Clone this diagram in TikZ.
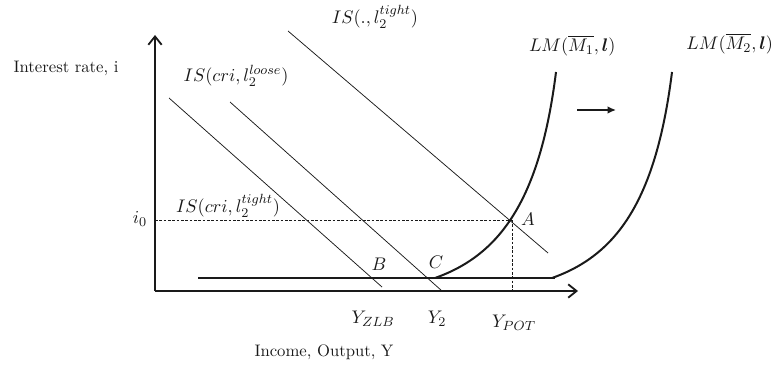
\documentclass[tikz,border=0pt]{standalone}
\usepackage{amsmath,amssymb}
\usetikzlibrary{arrows.meta}
\definecolor{inkBlack}{HTML}{1A1A1A}
\tikzset{
    axis/.style={-{Straight Barb[length=5pt,width=8pt]},draw=inkBlack,line width=1.1pt},
    isline/.style={draw=inkBlack,line width=0.45pt},
    lmcurve/.style={draw=inkBlack,line width=1.2pt},
    zlbline/.style={draw=inkBlack,line width=1.7pt},
    guide/.style={draw=inkBlack,line width=0.4pt,dash pattern=on 1.6pt off 1pt},
    shiftarrow/.style={-{Latex[length=5pt,width=4.5pt]},draw=inkBlack,line width=0.9pt},
    lbl/.style={inner sep=1pt,font=\normalsize,text=inkBlack},
    mathlbl/.style={inner sep=1pt,font=\fontsize{11}{13}\selectfont,text=inkBlack}
}

\begin{document}
\begin{tikzpicture}[x=0.6pt,y=-0.6pt]
        \useasboundingbox (0,0) rectangle (777,366);
        % axes
        \coordinate (origin) at (155,291);
        \coordinate (ytop) at (155,35);
        \coordinate (xend) at (578,291);
        \draw[axis] (origin) -- (ytop);
        \draw[axis] (origin) -- (xend);
        \node[lbl] (ylabel) at (66,68) {Interest rate, i};
        \node[lbl] (xlabel) at (324,352) {Income, Output, Y};
        % zero lower bound
        \coordinate (zlbstart) at (198,278);
        \coordinate (zlbend) at (555,278);
        \draw[zlbline] (zlbstart) -- (zlbend);
        % IS curves
        \coordinate (istighttop) at (169,98);
        \coordinate (istightbot) at (382,287);
        \coordinate (isloosetop) at (230,102);
        \coordinate (isloosebot) at (442,291);
        \coordinate (isdottop) at (288,31);
        \coordinate (isdotbot) at (548,253);
        \draw[isline] (istighttop) -- (istightbot);
        \draw[isline] (isloosetop) -- (isloosebot);
        \draw[isline] (isdottop) -- (isdotbot);
        \node[mathlbl] (labelIStight) at (228,206) {$IS(cri,l_2^{tight})$};
        \node[mathlbl] (labelISloose) at (236,76) {$IS(cri,l_2^{loose})$};
        \node[mathlbl] (labelISdot) at (375,17) {$IS(.,l_2^{tight})$};
        % LM curves
        \coordinate (lmonestart) at (435,278);
        \coordinate (lmonetop) at (556,72);
        \coordinate (lmtwostart) at (552,278);
        \coordinate (lmtwotop) at (672,72);
        \draw[lmcurve] (lmonestart) .. controls (500,255) and (540,200) .. (lmonetop);
        \draw[lmcurve] (lmtwostart) .. controls (617,255) and (656,200) .. (lmtwotop);
        \node[mathlbl,anchor=west] (labelLMone) at (527,46) {$LM(\overline{M_1},\boldsymbol{l})$};
        \node[mathlbl,anchor=east] (labelLMtwo) at (775,44) {$LM(\overline{M_2},\boldsymbol{l})$};
        \coordinate (shiftfrom) at (577,110);
        \coordinate (shiftto) at (616,110);
        \draw[shiftarrow] (shiftfrom) -- (shiftto);
        % equilibrium guides
        \coordinate (pointA) at (512,220);
        \coordinate (ileft) at (155,220);
        \coordinate (ypot) at (512,291);
        \draw[guide] (ileft) -- (pointA);
        \draw[guide] (pointA) -- (ypot);
        \node[mathlbl] (labelA) at (528,219) {$A$};
        \node[mathlbl] (labelB) at (379,264) {$B$};
        \node[mathlbl] (labelC) at (436,262) {$C$};
        \node[mathlbl] (labeli) at (140,219) {$i_0$};
        \node[mathlbl] (labelYZLB) at (373,319) {$Y_{ZLB}$};
        \node[mathlbl] (labelYtwo) at (437,319) {$Y_2$};
        \node[mathlbl] (labelYPOT) at (514,323) {$Y_{POT}$};
    \end{tikzpicture}
\end{document}
